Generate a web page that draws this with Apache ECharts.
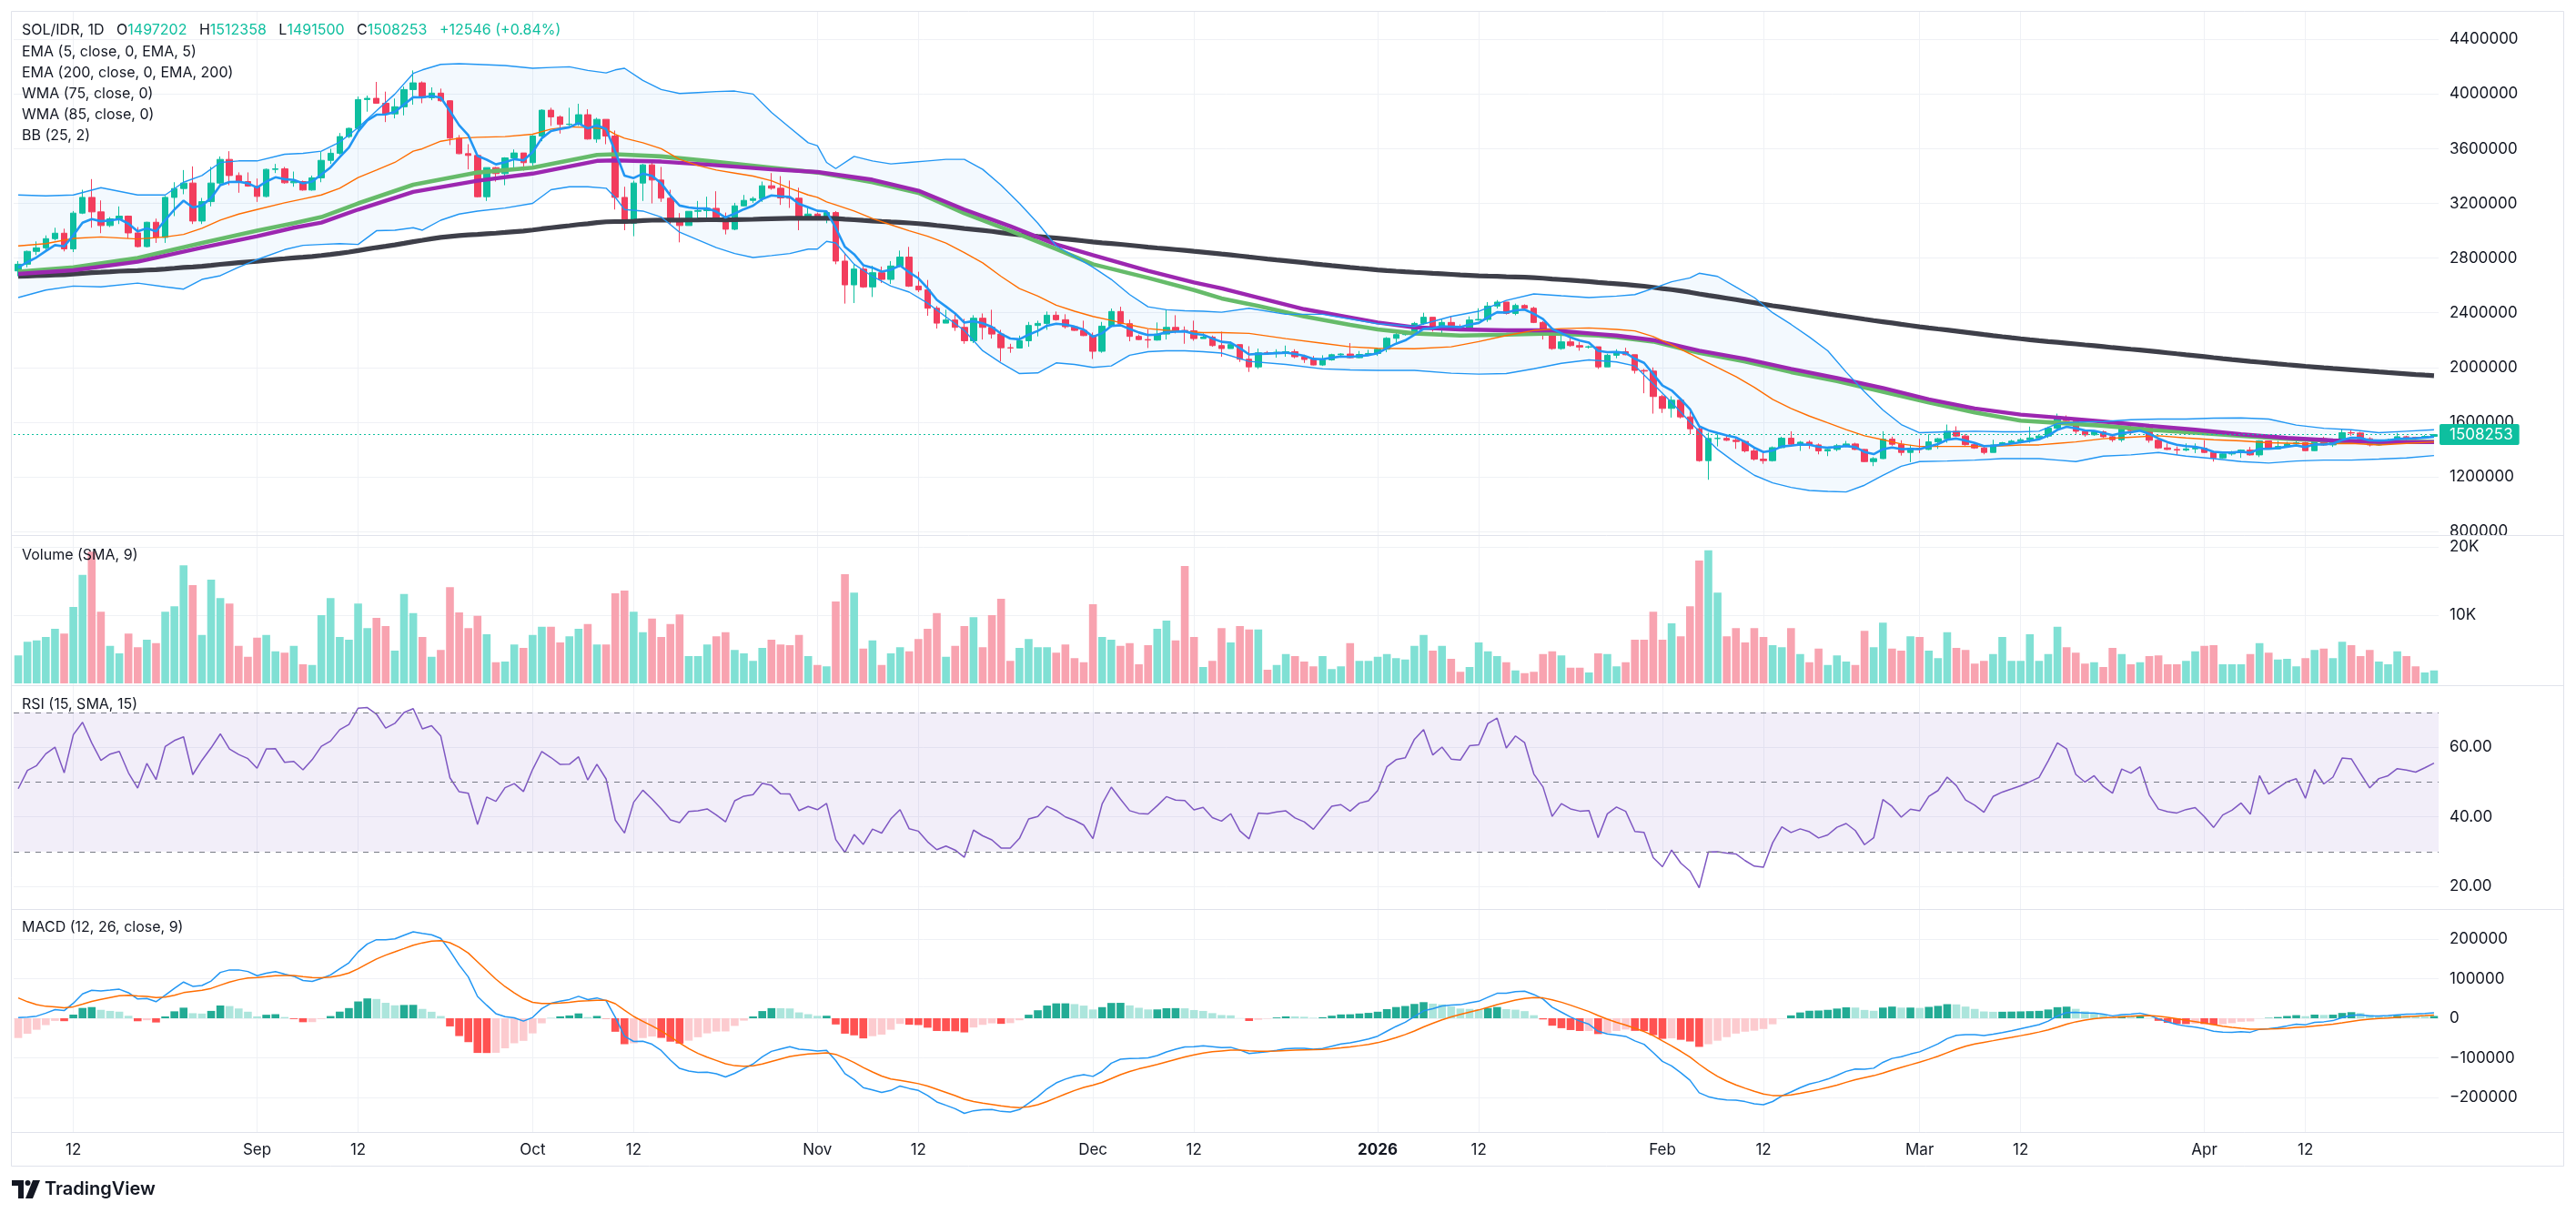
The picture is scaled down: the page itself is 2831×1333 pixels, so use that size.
<!DOCTYPE html>
<html>
<head>
<meta charset="utf-8">
<title>SOL/IDR 1D</title>
<script src="https://cdn.jsdelivr.net/npm/echarts@6/dist/echarts.min.js"></script>
<style>
  html, body { margin: 0; padding: 0; background: #fff; }
  #chart { width: 2831px; height: 1333px; }
</style>
</head>
<body>
<div id="chart"></div>
<script>
// prices are in thousands of IDR, volume in thousands of coins
const K = 1000;
const startDate = Date.UTC(2025, 7, 6);
const firstOpen = 2706;

const close = [
  2755, 2849, 2875, 2942, 2982, 2867, 3129, 3244, 3138, 3038, 3087, 3107, 2984, 2884, 3062, 2951, 3244, 3309, 3349, 3071,
  3213, 3349, 3522, 3404, 3360, 3327, 3251, 3449, 3453, 3351, 3360, 3298, 3387, 3515, 3567, 3689, 3749, 3960, 3969, 3933,
  3855, 3907, 4033, 4082, 3973, 4007, 3951, 3678, 3564, 3551, 3249, 3462, 3418, 3533, 3569, 3498, 3693, 3882, 3833, 3778,
  3780, 3849, 3671, 3815, 3693, 3244, 3055, 3349, 3482, 3371, 3238, 3078, 3038, 3142, 3147, 3164, 3093, 3011, 3182, 3222,
  3235, 3329, 3311, 3240, 3238, 3095, 3122, 3095, 3133, 2778, 2604, 2720, 2589, 2693, 2644, 2742, 2807, 2595, 2567, 2433,
  2324, 2347, 2293, 2195, 2360, 2293, 2244, 2144, 2142, 2195, 2307, 2322, 2382, 2349, 2298, 2271, 2233, 2118, 2302, 2409,
  2320, 2227, 2204, 2200, 2244, 2293, 2271, 2268, 2211, 2222, 2160, 2138, 2167, 2060, 2004, 2107, 2104, 2111, 2115, 2078,
  2058, 2018, 2055, 2093, 2098, 2071, 2095, 2102, 2133, 2213, 2240, 2247, 2322, 2367, 2295, 2329, 2293, 2290, 2347, 2351,
  2449, 2478, 2395, 2453, 2433, 2329, 2278, 2138, 2187, 2160, 2149, 2151, 2004, 2089, 2115, 2093, 1978, 1973, 1787, 1700,
  1760, 1638, 1551, 1318, 1480, 1481, 1467, 1458, 1389, 1329, 1318, 1413, 1482, 1438, 1453, 1433, 1389, 1400, 1427, 1440,
  1400, 1311, 1333, 1475, 1438, 1378, 1409, 1400, 1455, 1478, 1533, 1498, 1435, 1411, 1378, 1433, 1449, 1460, 1471, 1484,
  1498, 1555, 1627, 1611, 1533, 1507, 1529, 1493, 1471, 1551, 1538, 1560, 1467, 1411, 1400, 1395, 1404, 1409, 1378, 1338,
  1367, 1378, 1395, 1360, 1462, 1404, 1422, 1440, 1449, 1391, 1478, 1433, 1455, 1522, 1520, 1478, 1433, 1462, 1471, 1493,
  1489, 1484, 1495.707, 1508.253
];
const high = [
  2778, 2855, 2922, 2966, 3022, 3015, 3144, 3300, 3378, 3222, 3100, 3178, 3111, 3027, 3066, 3089, 3255, 3355, 3444, 3471,
  3240, 3467, 3544, 3582, 3427, 3427, 3382, 3455, 3489, 3467, 3433, 3367, 3404, 3578, 3600, 3715, 3755, 3982, 3989, 4089,
  4018, 3967, 4055, 4173, 4093, 4049, 4040, 3955, 3700, 3633, 3555, 3462, 3467, 3538, 3595, 3569, 3700, 3889, 3900, 3844,
  3900, 3929, 3889, 3827, 3815, 3733, 3322, 3367, 3489, 3522, 3467, 3300, 3129, 3142, 3218, 3249, 3289, 3133, 3204, 3262,
  3249, 3360, 3422, 3400, 3367, 3315, 3167, 3133, 3144, 3144, 2833, 2755, 2738, 2744, 2738, 2778, 2855, 2882, 2700, 2640,
  2449, 2422, 2395, 2355, 2382, 2395, 2422, 2275, 2173, 2233, 2333, 2342, 2409, 2409, 2389, 2302, 2342, 2255, 2333, 2431,
  2444, 2349, 2240, 2278, 2329, 2422, 2382, 2300, 2342, 2249, 2233, 2262, 2189, 2167, 2155, 2138, 2120, 2133, 2160, 2133,
  2093, 2084, 2089, 2100, 2104, 2178, 2120, 2129, 2144, 2222, 2262, 2267, 2333, 2400, 2367, 2351, 2373, 2315, 2373, 2433,
  2478, 2493, 2478, 2467, 2462, 2444, 2338, 2289, 2244, 2211, 2187, 2160, 2151, 2100, 2133, 2144, 2093, 1989, 2000, 1800,
  1789, 1767, 1678, 1573, 1522, 1511, 1500, 1493, 1467, 1418, 1378, 1422, 1493, 1533, 1462, 1467, 1444, 1404, 1440, 1462,
  1449, 1404, 1344, 1533, 1493, 1467, 1433, 1478, 1511, 1484, 1582, 1569, 1511, 1449, 1427, 1471, 1455, 1471, 1484, 1567,
  1511, 1567, 1662, 1649, 1622, 1544, 1533, 1538, 1511, 1573, 1573, 1582, 1560, 1484, 1444, 1422, 1444, 1444, 1467, 1389,
  1371, 1389, 1400, 1418, 1467, 1462, 1462, 1455, 1467, 1455, 1484, 1493, 1467, 1551, 1544, 1529, 1489, 1471, 1478, 1522,
  1500, 1493, 1505, 1512.358
];
const low = [
  2667, 2733, 2822, 2855, 2929, 2849, 2844, 3122, 3022, 2982, 3027, 3049, 2944, 2878, 2878, 2911, 2911, 3107, 3267, 3049,
  3049, 3178, 3338, 3333, 3278, 3322, 3211, 3244, 3422, 3344, 3322, 3293, 3293, 3355, 3489, 3555, 3678, 3733, 3871, 3929,
  3795, 3822, 3844, 3922, 3933, 3955, 3944, 3627, 3560, 3449, 3244, 3218, 3360, 3333, 3444, 3440, 3455, 3655, 3767, 3711,
  3767, 3767, 3667, 3644, 3633, 3155, 3004, 2960, 3218, 3200, 3211, 3044, 2915, 3038, 3071, 3078, 3067, 2973, 3004, 3178,
  3204, 3211, 3300, 3189, 3167, 3004, 3078, 3078, 3055, 2755, 2467, 2471, 2582, 2515, 2618, 2611, 2733, 2589, 2551, 2378,
  2284, 2324, 2267, 2173, 2178, 2204, 2211, 2044, 2107, 2138, 2151, 2227, 2275, 2342, 2284, 2267, 2229, 2062, 2107, 2293,
  2311, 2191, 2200, 2142, 2196, 2204, 2249, 2173, 2195, 2211, 2151, 2078, 2138, 2040, 1967, 1989, 2098, 2071, 2078, 2067,
  2033, 2015, 2011, 2049, 2071, 2067, 2067, 2089, 2084, 2111, 2182, 2233, 2233, 2311, 2262, 2244, 2284, 2284, 2278, 2342,
  2333, 2431, 2387, 2382, 2427, 2324, 2204, 2129, 2129, 2151, 2122, 2138, 1989, 2004, 2067, 2089, 1955, 1811, 1662, 1667,
  1633, 1627, 1511, 1310, 1178, 1422, 1462, 1404, 1378, 1318, 1295, 1311, 1409, 1433, 1389, 1404, 1364, 1351, 1387, 1418,
  1395, 1307, 1278, 1329, 1427, 1355, 1307, 1373, 1395, 1404, 1449, 1493, 1427, 1404, 1364, 1378, 1427, 1440, 1444, 1449,
  1484, 1484, 1544, 1595, 1515, 1493, 1500, 1484, 1455, 1455, 1507, 1533, 1449, 1404, 1395, 1360, 1387, 1373, 1373, 1311,
  1333, 1355, 1338, 1355, 1344, 1400, 1400, 1418, 1433, 1389, 1389, 1427, 1418, 1449, 1500, 1471, 1422, 1427, 1455, 1467,
  1467, 1471, 1480, 1491.5
];
const volume = [
  4.1, 6.1, 6.3, 6.8, 8.0, 7.3, 11.2, 15.9, 19.3, 10.5, 5.5, 4.4, 7.3, 5.3, 6.4, 5.9, 10.5, 11.3, 17.3, 14.4,
  7.1, 15.2, 12.5, 11.7, 5.5, 3.9, 6.7, 7.1, 4.7, 4.5, 5.5, 2.8, 2.7, 10.0, 12.5, 6.8, 6.4, 11.7, 8.1, 9.6,
  8.4, 4.8, 13.1, 10.3, 6.8, 3.9, 4.9, 14.1, 10.4, 8.1, 9.9, 7.2, 3.1, 3.2, 5.7, 5.2, 7.1, 8.3, 8.3, 6.0,
  6.9, 8.0, 8.7, 5.7, 5.7, 13.2, 13.6, 10.5, 7.5, 9.5, 6.8, 8.7, 10.1, 4.0, 4.0, 5.7, 6.9, 7.5, 4.9, 4.4,
  3.3, 5.2, 6.4, 5.7, 5.6, 7.1, 4.0, 2.7, 2.5, 12.0, 16.0, 13.3, 5.1, 6.3, 2.7, 4.4, 5.3, 4.7, 6.5, 8.0,
  10.3, 3.9, 5.5, 8.4, 9.7, 5.3, 10.0, 12.4, 3.3, 5.2, 6.5, 5.3, 5.3, 4.5, 5.7, 3.7, 3.1, 11.6, 6.8, 6.4,
  5.5, 5.9, 2.8, 5.6, 8.0, 9.2, 6.3, 17.2, 6.8, 2.4, 3.3, 8.1, 6.0, 8.4, 7.9, 7.9, 2.0, 2.7, 4.3, 4.0,
  3.2, 2.5, 4.0, 2.1, 2.5, 5.9, 3.3, 3.3, 3.9, 4.3, 3.7, 3.5, 5.5, 7.1, 4.8, 5.5, 3.6, 1.7, 2.4, 6.0,
  4.7, 4.0, 3.1, 1.9, 1.5, 1.7, 4.3, 4.7, 4.1, 2.3, 2.3, 1.6, 4.4, 4.3, 2.5, 3.1, 6.4, 6.4, 10.5, 6.4,
  8.8, 6.9, 11.3, 18.0, 19.5, 13.3, 6.9, 8.1, 6.0, 8.1, 6.8, 5.6, 5.3, 8.1, 4.3, 3.1, 5.1, 2.7, 4.1, 3.2,
  2.7, 7.7, 5.3, 8.9, 5.1, 4.8, 6.9, 6.8, 4.8, 3.7, 7.5, 5.2, 4.9, 2.9, 3.3, 4.3, 6.8, 3.3, 3.3, 7.2,
  3.3, 4.3, 8.3, 5.3, 4.5, 2.9, 3.1, 2.4, 5.2, 4.3, 2.8, 3.1, 4.0, 4.1, 2.8, 2.8, 3.3, 4.7, 5.5, 5.6,
  2.8, 2.8, 2.8, 4.3, 5.9, 4.5, 3.5, 3.6, 2.5, 3.7, 4.9, 5.1, 3.7, 6.1, 5.6, 4.0, 4.9, 3.2, 2.8, 4.7,
  4.0, 2.5, 1.6, 1.9
];

// WMA lines, sampled along the curve (bar index -> value)
const wmaIdx = [0, 6, 13, 20, 26, 30, 33, 37, 43, 50, 56, 63, 65, 70, 75, 82, 87, 93, 98, 103,
  108, 113, 117, 123, 128, 131, 135, 140, 145, 148, 152, 157, 162, 167, 172, 174, 178, 183, 188, 193,
  198, 203, 208, 213, 218, 222, 227, 232, 237, 242, 247, 252, 257, 263];
const wma75 = [2700, 2733, 2800, 2911, 3000, 3055, 3100, 3200, 3337, 3426, 3462, 3555, 3560, 3544, 3511, 3462, 3426, 3355, 3277, 3128,
  3000, 2866, 2755, 2655, 2566, 2505, 2449, 2373, 2311, 2278, 2249, 2233, 2240, 2249, 2233, 2222, 2189, 2106, 2044, 1966,
  1900, 1822, 1744, 1671, 1611, 1595, 1573, 1544, 1522, 1500, 1478, 1462, 1455, 1455];
const wma85 = [2684, 2711, 2773, 2877, 2960, 3022, 3060, 3155, 3284, 3366, 3418, 3511, 3515, 3506, 3484, 3449, 3430, 3373, 3293, 3155,
  3033, 2900, 2822, 2706, 2622, 2578, 2511, 2426, 2366, 2329, 2293, 2278, 2271, 2271, 2244, 2233, 2200, 2122, 2062, 1989,
  1922, 1849, 1766, 1700, 1655, 1633, 1604, 1573, 1544, 1511, 1484, 1466, 1455, 1453];

// Bollinger bands (25, 2), sampled along the curves
const bbIdx = [0, 3, 6, 9, 13, 16, 18, 20, 22, 24, 26, 29, 31, 33, 35, 37, 39, 41, 43, 44,
  46, 48, 50, 53, 56, 58, 60, 62, 64, 65, 66, 68, 70, 72, 74, 76, 78, 80, 82, 84,
  86, 87, 88, 89, 91, 93, 95, 97, 99, 101, 103, 105, 107, 109, 111, 113, 115, 117, 119, 121,
  123, 125, 127, 129, 131, 134, 138, 142, 145, 148, 152, 156, 159, 162, 165, 168, 171, 174, 176, 178,
  180, 182, 183, 185, 187, 189, 191, 193, 195, 197, 199, 201, 203, 205, 207, 210, 213, 216, 218, 220,
  222, 224, 227, 230, 233, 236, 239, 242, 245, 248, 251, 254, 257, 260, 263];
const bbUpper = [3262, 3255, 3262, 3315, 3262, 3262, 3355, 3404, 3500, 3511, 3511, 3560, 3566, 3582, 3649, 3755, 3877, 4000, 4151, 4177,
  4217, 4222, 4217, 4209, 4189, 4195, 4200, 4173, 4155, 4177, 4189, 4100, 4033, 4004, 4011, 4018, 4022, 4000, 3866, 3755,
  3644, 3622, 3500, 3455, 3544, 3511, 3489, 3500, 3511, 3522, 3522, 3449, 3333, 3200, 3055, 2889, 2811, 2733, 2644, 2533,
  2444, 2422, 2415, 2411, 2404, 2433, 2389, 2389, 2355, 2320, 2300, 2373, 2411, 2490, 2538, 2524, 2511, 2522, 2533, 2578,
  2627, 2655, 2689, 2666, 2588, 2511, 2400, 2315, 2222, 2122, 1966, 1822, 1689, 1582, 1522, 1529, 1533, 1529, 1529, 1533,
  1589, 1600, 1604, 1617, 1622, 1622, 1629, 1631, 1622, 1578, 1555, 1544, 1522, 1533, 1544];
const bbBasis = [2889, 2906, 2944, 2955, 2940, 2955, 2973, 3018, 3078, 3122, 3155, 3204, 3233, 3262, 3311, 3389, 3444, 3500, 3582, 3600,
  3655, 3677, 3684, 3689, 3706, 3744, 3760, 3755, 3744, 3706, 3677, 3644, 3600, 3522, 3477, 3444, 3422, 3400, 3366, 3311,
  3262, 3244, 3211, 3189, 3144, 3089, 3044, 3000, 2960, 2910, 2840, 2765, 2666, 2577, 2522, 2455, 2411, 2373, 2344, 2311,
  2284, 2271, 2262, 2255, 2255, 2249, 2211, 2177, 2151, 2140, 2137, 2151, 2189, 2233, 2271, 2284, 2289, 2278, 2267, 2226,
  2166, 2100, 2066, 1999, 1933, 1855, 1766, 1700, 1644, 1595, 1545, 1500, 1471, 1440, 1422, 1422, 1422, 1426, 1433, 1433,
  1444, 1455, 1478, 1489, 1500, 1484, 1471, 1462, 1449, 1444, 1440, 1444, 1433, 1444, 1455];
const bbLower = [2511, 2566, 2595, 2589, 2617, 2589, 2573, 2644, 2671, 2733, 2789, 2862, 2893, 2900, 2906, 2900, 3000, 3004, 3022, 3004,
  3077, 3122, 3144, 3166, 3200, 3300, 3322, 3322, 3311, 3244, 3155, 3144, 3100, 2989, 2933, 2877, 2833, 2804, 2818, 2833,
  2866, 2866, 2922, 2911, 2755, 2666, 2595, 2551, 2470, 2370, 2270, 2122, 2033, 1955, 1960, 2033, 2022, 2000, 2011, 2089,
  2115, 2122, 2122, 2115, 2105, 2044, 2022, 1989, 1982, 1978, 1978, 1958, 1951, 1955, 1990, 2030, 2055, 2040, 2011, 1878,
  1744, 1600, 1533, 1400, 1300, 1211, 1155, 1122, 1100, 1093, 1089, 1138, 1211, 1277, 1311, 1315, 1322, 1333, 1333, 1333,
  1322, 1311, 1351, 1360, 1378, 1351, 1333, 1311, 1300, 1315, 1322, 1322, 1329, 1338, 1355];

// indicator states at the first bar
const seed = { ema5: 2720, ema200: 2666, ema12: 2850, ema26: 2840, signal: 64, rsiGain: 27, rsiLoss: 33 };

const tickDates = ['2025-08-12', '2025-09-01', '2025-09-12', '2025-10-01', '2025-10-12', '2025-11-01', '2025-11-12',
  '2025-12-01', '2025-12-12', '2026-01-01', '2026-01-12', '2026-02-01', '2026-02-12', '2026-03-01', '2026-03-12',
  '2026-04-01', '2026-04-12'];
const tickLabels = ['12', 'Sep', '12', 'Oct', '12', 'Nov', '12', 'Dec', '12', '2026', '12', 'Feb', '12', 'Mar', '12', 'Apr', '12'];

const UP = '#0ebf9f', DOWN = '#f23d5d';
const VOL_UP = '#80e0d4', VOL_DOWN = '#f8a3b0';
const GRID = '#eff1f5';
const TEXT = '#131722';
const FONT = 'Inter, "Noto Sans", Roboto, sans-serif';

const dates = close.map((_, i) => new Date(startDate + i * 86400000).toISOString().slice(0, 10));
const open = close.map((c, i) => (i === 0 ? firstOpen : close[i - 1]));
const tickMap = {};
tickDates.forEach((d, j) => { tickMap[d] = tickLabels[j]; });
const isTick = (idx, val) => val in tickMap;

function ema(src, n, start) {
  const a = 2 / (n + 1);
  let e = start;
  return src.map(v => (e += a * (v - e)));
}
function rsi(src, n, g0, l0) {
  let g = g0, l = l0, prev = firstOpen;
  return src.map(v => {
    const d = v - prev;
    prev = v;
    g = (g * (n - 1) + Math.max(d, 0)) / n;
    l = (l * (n - 1) + Math.max(-d, 0)) / n;
    return 100 - 100 / (1 + g / l);
  });
}
function sparse(idx, vals) {
  const out = new Array(close.length).fill(null);
  idx.forEach((x, j) => { out[x] = vals[j] * K; });
  return out;
}

const candles = close.map((c, i) => {
  const o = open[i];
  return [o * K, c * K, Math.min(low[i], o, c) * K, Math.max(high[i], o, c) * K];
});
const ema5 = ema(close, 5, seed.ema5).map(v => v * K);
const ema200 = ema(close, 200, seed.ema200).map(v => v * K);
const e12 = ema(close, 12, seed.ema12);
const e26 = ema(close, 26, seed.ema26);
const macd = e12.map((v, i) => v - e26[i]);
const signal = ema(macd, 9, seed.signal);
const hist = macd.map((v, i) => v - signal[i]);
const rsi15 = rsi(close, 15, seed.rsiGain, seed.rsiLoss);

const volData = volume.map((v, i) => ({
  value: v,
  itemStyle: { color: close[i] >= open[i] ? VOL_UP : VOL_DOWN }
}));
const histData = hist.map((h, i) => {
  const p = i === 0 ? h - 1 : hist[i - 1];
  let color;
  if (h >= 0) color = h > p ? '#22ab94' : '#ace5dc';
  else color = h > p ? '#fccbcf' : '#ff5252';
  return { value: h * K, itemStyle: { color } };
});

const chart = echarts.init(document.getElementById('chart'), null, { renderer: 'canvas' });

const L = 15, R = 151;
const grids = [
  { left: L, right: R, top: 43.3, height: 540.7 },
  { left: L, right: R, top: 601, height: 150 },
  { left: L, right: R, top: 744.5, height: 306 },
  { left: L, right: R, top: 988.5, height: 261 },
  { left: L, right: R, top: 13, height: 1231 }
];
const hiddenX = gi => ({ type: 'category', gridIndex: gi, data: dates, boundaryGap: true, show: false });
const axisLabel = { color: TEXT, fontSize: 17, fontFamily: FONT, margin: 12, formatter: v => String(v) };
const yBase = gi => ({
  type: 'value', gridIndex: gi, position: 'right', scale: false,
  axisLine: { show: false }, axisTick: { show: false },
  splitLine: { show: true, lineStyle: { color: GRID, width: 1 } }
});
const line = (name, data, color, width, z, extra) => Object.assign({
  name, type: 'line', data, xAxisIndex: 0, yAxisIndex: 0, showSymbol: false, symbol: 'none',
  lineStyle: { color, width }, z, silent: true, connectNulls: true
}, extra || {});

const legendLines = ['EMA (5, close, 0, EMA, 5)', 'EMA (200, close, 0, EMA, 200)', 'WMA (75, close, 0)',
  'WMA (85, close, 0)', 'BB (25, 2)'];
const lastC = close[close.length - 1];
const graphics = [
  { type: 'rect', shape: { x: 12.5, y: 12.5, width: 2805, height: 1269 }, style: { fill: 'none', stroke: '#e0e3eb', lineWidth: 1 }, z: 50 },
  { type: 'line', shape: { x1: 12.5, y1: 588.5, x2: 2817.5, y2: 588.5 }, style: { stroke: '#e0e3eb', lineWidth: 1 }, z: 50 },
  { type: 'line', shape: { x1: 12.5, y1: 753.5, x2: 2817.5, y2: 753.5 }, style: { stroke: '#e0e3eb', lineWidth: 1 }, z: 50 },
  { type: 'line', shape: { x1: 12.5, y1: 999.5, x2: 2817.5, y2: 999.5 }, style: { stroke: '#e0e3eb', lineWidth: 1 }, z: 50 },
  { type: 'line', shape: { x1: 12.5, y1: 1244.5, x2: 2817.5, y2: 1244.5 }, style: { stroke: '#e0e3eb', lineWidth: 1 }, z: 50 },
  {
    type: 'text', x: 24, y: 33, z: 60,
    style: {
      text: '{k|SOL/IDR, 1D}   {k|O}{v|1497202}   {k|H}{v|1512358}   {k|L}{v|1491500}   {k|C}{v|1508253}   {v|+12546 (+0.84%)}',
      fontSize: 16, fontFamily: FONT, verticalAlign: 'middle',
      rich: { k: { fill: TEXT, fontSize: 16, fontFamily: FONT }, v: { fill: UP, fontSize: 16, fontFamily: FONT } }
    }
  }
];
legendLines.forEach((t, j) => graphics.push({
  type: 'text', x: 24, y: 57 + j * 23, z: 60,
  style: { text: t, fill: TEXT, fontSize: 16, fontFamily: FONT, verticalAlign: 'middle' }
}));
[['Volume (SMA, 9)', 610], ['RSI (15, SMA, 15)', 774], ['MACD (12, 26, close, 9)', 1019]].forEach(([t, y]) => graphics.push({
  type: 'text', x: 24, y, z: 60,
  style: { text: t, fill: TEXT, fontSize: 16, fontFamily: FONT, verticalAlign: 'middle' }
}));
// TradingView mark
graphics.push(
  { type: 'polygon', shape: { points: [[13, 1297], [26, 1297], [26, 1317], [20, 1317], [20, 1303], [13, 1303]] }, style: { fill: TEXT }, z: 60 },
  { type: 'circle', shape: { cx: 30.5, cy: 1300, r: 3 }, style: { fill: TEXT }, z: 60 },
  { type: 'polygon', shape: { points: [[36, 1297], [44, 1297], [36, 1317], [28, 1317]] }, style: { fill: TEXT }, z: 60 },
  { type: 'text', x: 49, y: 1307, z: 60, style: { text: 'TradingView', fill: TEXT, fontSize: 20, fontWeight: 600, fontFamily: FONT, verticalAlign: 'middle' } }
);

chart.setOption({
  animation: false,
  backgroundColor: '#ffffff',
  grid: grids,
  xAxis: [hiddenX(0), hiddenX(1), hiddenX(2), hiddenX(3), {
    type: 'category', gridIndex: 4, data: dates, boundaryGap: true,
    axisLine: { show: false }, axisTick: { show: false },
    axisLabel: {
      interval: isTick, color: TEXT, fontSize: 17, fontFamily: FONT, margin: 11,
      formatter: v => (tickMap[v] === '2026' ? '{b|2026}' : tickMap[v] || ''),
      rich: { b: { fontWeight: 'bold', fontSize: 17, fontFamily: FONT, color: TEXT } }
    },
    splitLine: { show: true, interval: isTick, alignWithLabel: true, lineStyle: { color: GRID, width: 1 } }
  }],
  yAxis: [
    Object.assign(yBase(0), { min: 800000, max: 4400000, interval: 400000, axisLabel }),
    Object.assign(yBase(1), {
      min: 0, max: 20, interval: 10,
      axisLabel: Object.assign({}, axisLabel, { showMinLabel: false, formatter: v => v + 'K' }),
      splitLine: { show: true, showMinLine: false, lineStyle: { color: GRID } }
    }),
    Object.assign(yBase(2), {
      min: 0, max: 80, interval: 20,
      axisLabel: Object.assign({}, axisLabel, { showMinLabel: false, showMaxLabel: false, formatter: v => v.toFixed(2) }),
      splitLine: { show: true, showMinLine: false, showMaxLine: false, lineStyle: { color: GRID } }
    }),
    Object.assign(yBase(3), {
      min: -300000, max: 300000, interval: 100000,
      axisLabel: Object.assign({}, axisLabel, {
        showMinLabel: false, showMaxLabel: false,
        formatter: v => (v < 0 ? '\u2212' + (-v) : String(v))
      }),
      splitLine: { show: true, showMinLine: false, showMaxLine: false, lineStyle: { color: GRID } }
    }),
    { type: 'value', gridIndex: 4, show: false, min: 0, max: 1 }
  ],
  graphic: graphics,
  series: [
    {
      name: 'BB fill', type: 'custom', xAxisIndex: 0, yAxisIndex: 0, z: 1, silent: true, clip: true,
      data: [[0, bbBasis[0] * K]],
      renderItem: (params, api) => {
        const top = bbIdx.map((x, j) => api.coord([x, bbUpper[j] * K]));
        const bottom = bbIdx.map((x, j) => api.coord([x, bbLower[j] * K])).reverse();
        return { type: 'polygon', shape: { points: top.concat(bottom) }, style: { fill: 'rgba(33,150,243,0.055)' } };
      }
    },
    {
      name: 'SOL/IDR', type: 'candlestick', xAxisIndex: 0, yAxisIndex: 0, data: candles, barWidth: 7, z: 3,
      itemStyle: { color: UP, color0: DOWN, borderColor: UP, borderColor0: DOWN, borderWidth: 1 },
      markLine: {
        silent: true, symbol: 'none', animation: false,
        lineStyle: { color: UP, type: [2, 3], width: 1.2 },
        label: {
          position: 'end', distance: 1, color: '#ffffff', backgroundColor: UP,
          fontSize: 17, fontFamily: FONT, padding: [3, 7, 3, 11], borderRadius: 2,
          formatter: () => String(Math.round(lastC * K))
        },
        data: [{ yAxis: lastC * K }]
      }
    },
    line('EMA 5', ema5, '#2196f3', 2.6, 6),
    line('EMA 200', ema200, '#3e3f49', 5.2, 4),
    line('WMA 75', sparse(wmaIdx, wma75), '#66bb6a', 4.6, 4),
    line('WMA 85', sparse(wmaIdx, wma85), '#9c27b0', 4.4, 4),
    line('BB basis', sparse(bbIdx, bbBasis), '#ff6d00', 1.4, 5),
    line('BB upper', sparse(bbIdx, bbUpper), '#2196f3', 1.4, 5),
    line('BB lower', sparse(bbIdx, bbLower), '#2196f3', 1.4, 5),
    {
      name: 'Volume', type: 'bar', xAxisIndex: 1, yAxisIndex: 1, data: volData, barWidth: 8.6, silent: true, z: 2
    },
    {
      name: 'RSI band', type: 'line', xAxisIndex: 2, yAxisIndex: 2, data: rsi15, showSymbol: false, symbol: 'none',
      lineStyle: { opacity: 0 }, z: 1, silent: true,
      markArea: { silent: true, itemStyle: { color: 'rgba(126,87,194,0.1)' }, data: [[{ yAxis: 30 }, { yAxis: 70 }]] },
      markLine: {
        silent: true, symbol: 'none', label: { show: false },
        lineStyle: { color: '#787b86', type: [6, 6], width: 1 },
        data: [{ yAxis: 70 }, { yAxis: 50 }, { yAxis: 30 }]
      }
    },
    {
      name: 'RSI', type: 'line', xAxisIndex: 2, yAxisIndex: 2, data: rsi15, showSymbol: false, symbol: 'none',
      lineStyle: { color: '#7e57c2', width: 1.5 }, z: 3, silent: true
    },
    {
      name: 'Histogram', type: 'bar', xAxisIndex: 3, yAxisIndex: 3, data: histData, barWidth: 8.6, silent: true, z: 2
    },
    {
      name: 'MACD', type: 'line', xAxisIndex: 3, yAxisIndex: 3, data: macd.map(v => v * K), showSymbol: false, symbol: 'none',
      lineStyle: { color: '#2196f3', width: 1.5 }, z: 3, silent: true
    },
    {
      name: 'Signal', type: 'line', xAxisIndex: 3, yAxisIndex: 3, data: signal.map(v => v * K), showSymbol: false, symbol: 'none',
      lineStyle: { color: '#ff6d00', width: 1.5 }, z: 3, silent: true
    }
  ]
});
</script>
</body>
</html>
